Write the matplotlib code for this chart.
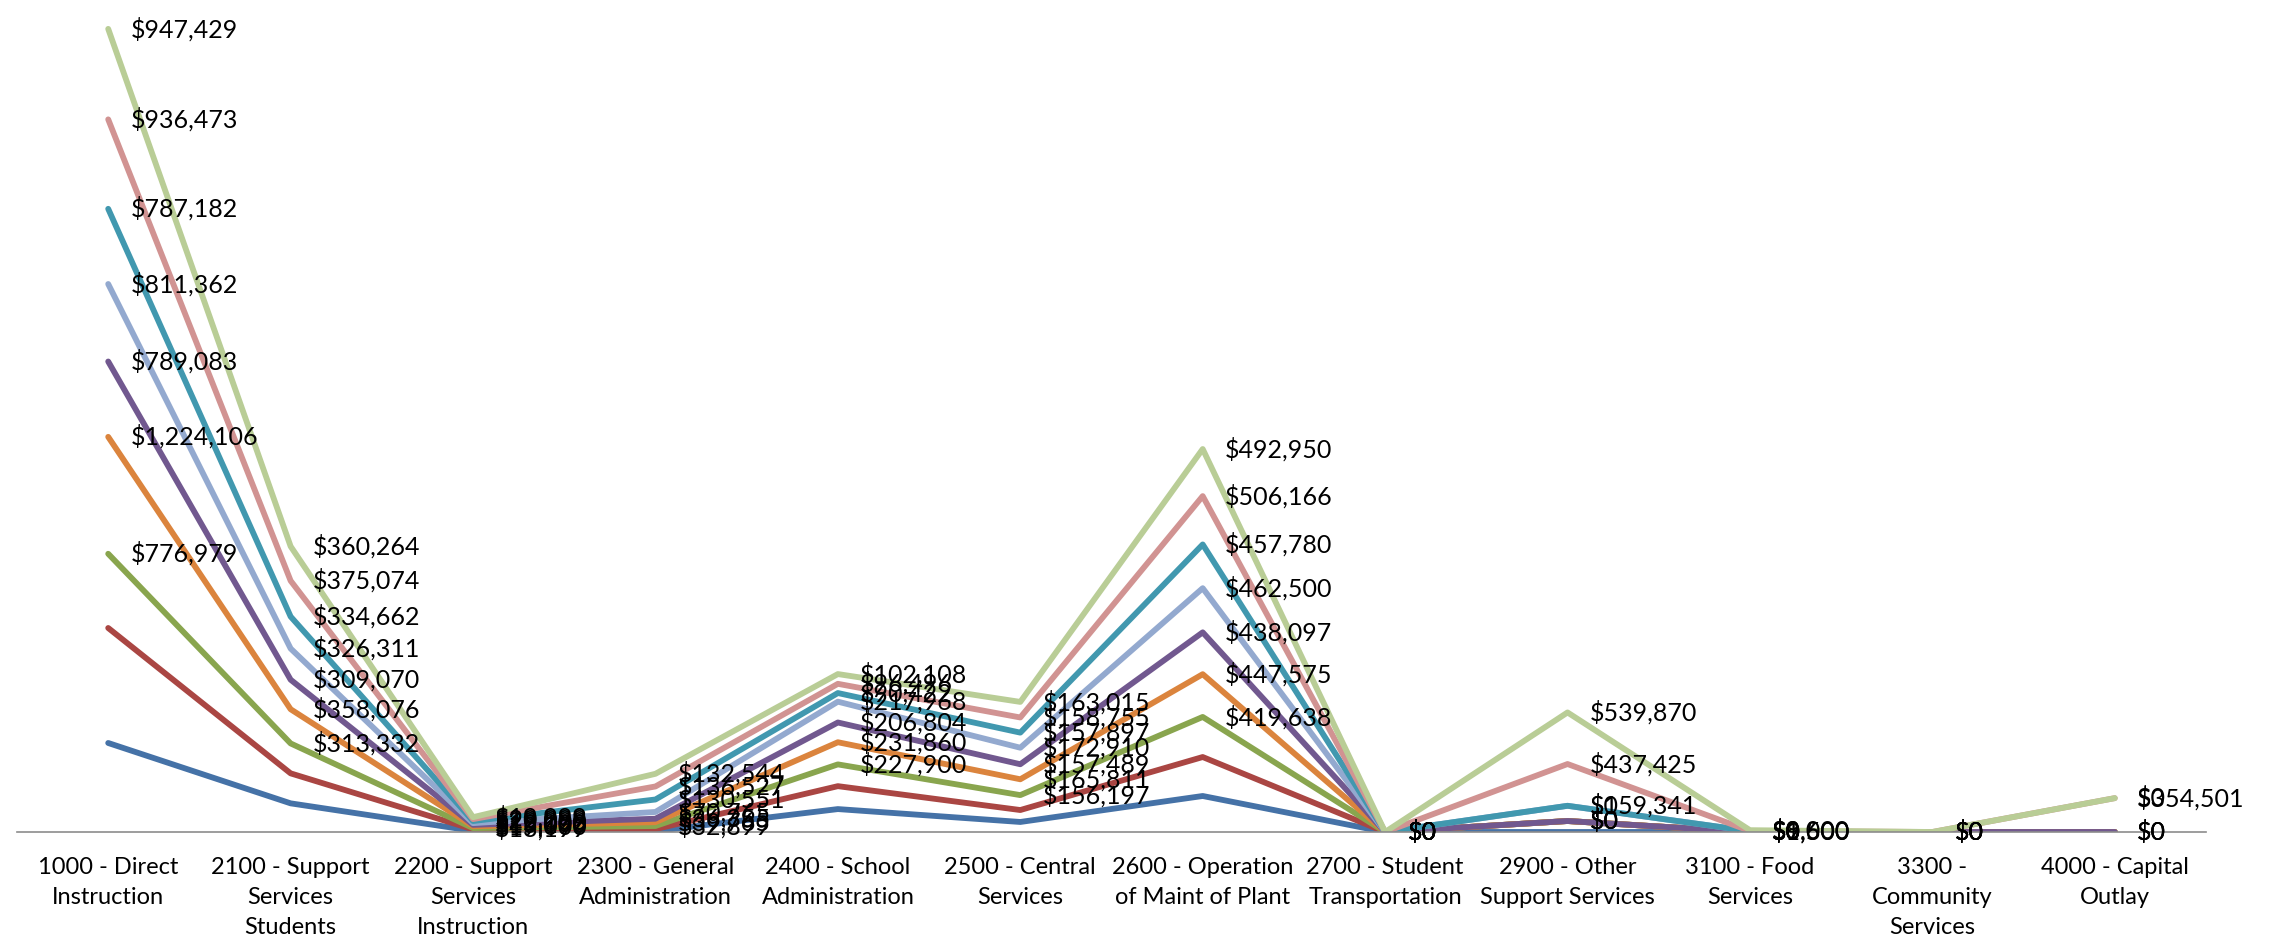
import numpy as np
import matplotlib
matplotlib.use("Agg")
import matplotlib.pyplot as plt

nan = np.nan

# category names on the x axis
categories = ["1000 - Direct\nInstruction", "2100 - Support\nServices\nStudents",
              "2200 - Support\nServices\nInstruction", "2300 - General\nAdministration",
              "2400 - School\nAdministration", "2500 - Central\nServices",
              "2600 - Operation\nof Maint of Plant", "2700 - Student\nTransportation",
              "2900 - Other\nSupport Services", "3100 - Food\nServices",
              "3300 -\nCommunity\nServices", "4000 - Capital\nOutlay"]

# series values (stacked lines), bottom to top
blue   = [932000, 300000, 12500, 10000, 240000, 105000, 377000, 0, 0, 0, 0, 0]
red    = [1204000, 314000, 15000, 20000, 240000, 125000, 408000, 0, 115000, 0, 0, 0]
green  = [776979, 313332, 13199, 32899, 227900, 156197, 419638, 0, 0, 0, 0, 0]
orange = [1224106, 358076, 19000, 39765, 231860, 165811, 447575, 0, 0, 0, 0, 0]
purple = [789083, 309070, 15195, 36355, 206804, 157489, 438097, 0, 0, 0, 0, 0]
ltblue = [811362, 326311, 18000, 70765, 217968, 172910, 462500, 0, 159341, 9600, nan, nan]
teal   = [787182, 334662, 22000, 130551, 90422, 157897, 457780, 0, 0, 0, nan, nan]
pink   = [936473, 375074, 20099, 136527, 96496, 158755, 506166, 0, 437425, 1500, 0, 354501]
ltgreen = [947429, 360264, 19999, 132544, 102108, 163015, 492950, 0, 539870, 8000, 0, 0]

series = [blue, red, green, orange, purple, ltblue, teal, pink, ltgreen]
colors = ["#4572A7", "#AA4643", "#89A54E", "#DB843D", "#71588F",
          "#93A9CF", "#4198AF", "#D19392", "#B9CD96"]
labeled = [False, False, True, True, True, True, True, True, True]

FONT = ["Lato", "DejaVu Sans"]
FS = 18

fig = plt.figure(figsize=(22.75, 9.44), dpi=100)
ax = fig.add_axes([17 / 2275, 112 / 944, 2189 / 2275, 832 / 944])

x = np.arange(len(categories))
cum = np.zeros(len(categories))
stacks = []
for vals in series:
    v = np.array(vals, dtype=float)
    cum = cum + np.nan_to_num(v)
    y = np.where(np.isnan(v), np.nan, cum)
    stacks.append((v, y))

for (v, y), c in zip(stacks, colors):
    ax.plot(x, y, color=c, lw=4.2, solid_capstyle="round", solid_joinstyle="round")

# data labels, right of each point
for (v, y), lab in zip(stacks, labeled):
    if not lab:
        continue
    for i in range(len(x)):
        if np.isnan(v[i]):
            continue
        ax.annotate("${:,.0f}".format(v[i]), (x[i], y[i]), xytext=(16, 0),
                    textcoords="offset points", ha="left", va="center",
                    fontsize=FS, family=FONT, color="black", zorder=10)

ax.set_xlim(-0.5, 11.5)
ax.set_ylim(0, 832 * 10470)
ax.set_yticks([])
ax.set_xticks(x)
ax.set_xticklabels(categories, fontsize=17, family=FONT, linespacing=1.52)
ax.tick_params(axis="x", length=0, pad=18)
for s in ["top", "right", "left"]:
    ax.spines[s].set_visible(False)
ax.spines["bottom"].set_color("#8C8C8C")
ax.spines["bottom"].set_linewidth(1.2)
ax.patch.set_alpha(0)

fig.savefig("out.png", dpi=100)
